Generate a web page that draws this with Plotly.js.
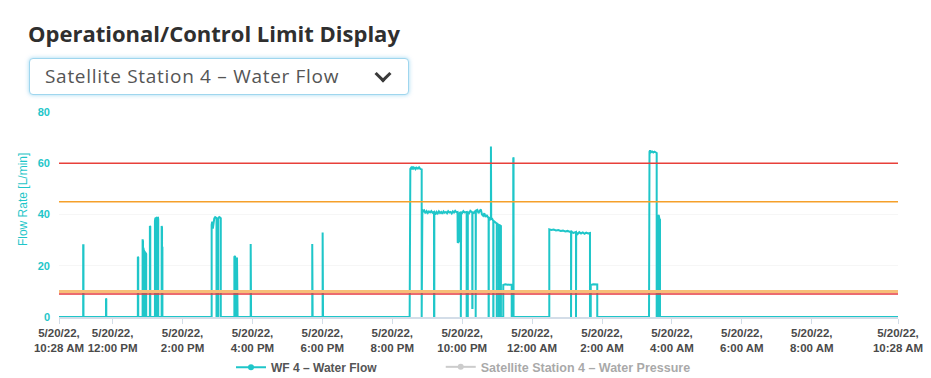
<!DOCTYPE html>
<html>
<head>
<meta charset="utf-8">
<script src="https://cdn.plot.ly/plotly-3.0.1.min.js"></script>
<style>
  html, body { margin: 0; padding: 0; background: #fff; width: 931px; height: 378px; overflow: hidden; }
  #chart { position: absolute; left: 0; top: 0; width: 931px; height: 378px; }
  #title { position: absolute; left: 28px; top: 18px; font-family: "Open Sans", Lato, sans-serif; font-weight: 700; font-size: 22px; color: #2f2f2f; white-space: nowrap; }
  #dropdown { position: absolute; left: 29px; top: 58px; width: 378px; height: 35px; border: 1px solid #9fd6ee; border-radius: 4px; box-shadow: 0 0 4px rgba(110, 195, 235, 0.65); background: #fff; }
  #dropdown span { position: absolute; left: 15px; top: 4px; font-family: "Open Sans", Lato, sans-serif; font-size: 19px; letter-spacing: 0.7px; color: #555; white-space: nowrap; }
  #chev { position: absolute; left: 347px; top: 9px; width: 9px; height: 9px; border-right: 3px solid #3a3a3a; border-bottom: 3px solid #3a3a3a; transform: rotate(45deg); }
</style>
</head>
<body>
<div id="chart"></div>
<div id="title">Operational/Control Limit Display</div>
<div id="dropdown"><span>Satellite Station 4 – Water Flow</span><div id="chev"></div></div>
<script>
// ---- data ----
const xStart = "2022-05-20 10:28:00";
const xEnd = "2022-05-21 10:28:00";

const tickVals = ["2022-05-20 10:28","2022-05-20 12:00","2022-05-20 14:00","2022-05-20 16:00","2022-05-20 18:00","2022-05-20 20:00","2022-05-20 22:00","2022-05-21 00:00","2022-05-21 02:00","2022-05-21 04:00","2022-05-21 06:00","2022-05-21 08:00","2022-05-21 10:28"];
const tickText = ["5/20/22,<br>10:28 AM","5/20/22,<br>12:00 PM","5/20/22,<br>2:00 PM","5/20/22,<br>4:00 PM","5/20/22,<br>6:00 PM","5/20/22,<br>8:00 PM","5/20/22,<br>10:00 PM","5/20/22,<br>12:00 AM","5/20/22,<br>2:00 AM","5/20/22,<br>4:00 AM","5/20/22,<br>6:00 AM","5/20/22,<br>8:00 AM","5/20/22,<br>10:28 AM"];

const limitNames = ["Upper control", "Upper operational", "Lower operational", "Lower control"];
const limitValues = [60, 45, 10, 9];

const flowTimes = [
  "2022-05-20 10:28:00",
  "2022-05-20 11:09:30","2022-05-20 11:09:30","2022-05-20 11:10:00","2022-05-20 11:10:00",
  "2022-05-20 11:48:40","2022-05-20 11:48:40","2022-05-20 11:49:10","2022-05-20 11:49:10",
  "2022-05-20 12:43:20","2022-05-20 12:43:20","2022-05-20 12:44:00","2022-05-20 12:44:00",
  "2022-05-20 12:51:30","2022-05-20 12:51:30","2022-05-20 12:52:10","2022-05-20 12:52:10",
  "2022-05-20 12:52:40","2022-05-20 12:52:40","2022-05-20 12:53:20","2022-05-20 12:53:20",
  "2022-05-20 12:54:00","2022-05-20 12:54:00","2022-05-20 12:54:40","2022-05-20 12:54:40",
  "2022-05-20 12:55:20","2022-05-20 12:55:20","2022-05-20 12:56:20","2022-05-20 12:56:20",
  "2022-05-20 12:57:00","2022-05-20 12:57:00","2022-05-20 12:57:40","2022-05-20 12:57:40",
  "2022-05-20 13:04:00","2022-05-20 13:04:00","2022-05-20 13:04:40","2022-05-20 13:04:40",
  "2022-05-20 13:12:40","2022-05-20 13:12:40","2022-05-20 13:13:20","2022-05-20 13:15:00","2022-05-20 13:15:00",
  "2022-05-20 13:15:40","2022-05-20 13:15:40","2022-05-20 13:18:00","2022-05-20 13:18:20","2022-05-20 13:18:20",
  "2022-05-20 13:24:10","2022-05-20 13:24:10","2022-05-20 13:24:50","2022-05-20 13:24:50","2022-05-20 13:25:30","2022-05-20 13:25:30",
  "2022-05-20 14:50:00","2022-05-20 14:50:00","2022-05-20 14:51:00","2022-05-20 14:52:00","2022-05-20 14:53:00","2022-05-20 14:54:30","2022-05-20 14:56:00","2022-05-20 14:57:30","2022-05-20 14:58:20","2022-05-20 14:58:20",
  "2022-05-20 15:01:20","2022-05-20 15:01:20","2022-05-20 15:03:00","2022-05-20 15:05:00","2022-05-20 15:05:40","2022-05-20 15:05:40",
  "2022-05-20 15:29:00","2022-05-20 15:29:00","2022-05-20 15:30:00","2022-05-20 15:30:30","2022-05-20 15:30:30",
  "2022-05-20 15:33:30","2022-05-20 15:33:30","2022-05-20 15:34:30","2022-05-20 15:34:30",
  "2022-05-20 15:57:00","2022-05-20 15:57:00","2022-05-20 15:57:40","2022-05-20 15:57:40",
  "2022-05-20 17:42:40","2022-05-20 17:42:40","2022-05-20 17:43:20","2022-05-20 17:43:20",
  "2022-05-20 18:00:30","2022-05-20 18:00:30","2022-05-20 18:01:10","2022-05-20 18:01:10",
  "2022-05-20 20:29:50","2022-05-20 20:29:50","2022-05-20 20:31:00","2022-05-20 20:32:30","2022-05-20 20:34:00","2022-05-20 20:35:30","2022-05-20 20:37:00","2022-05-20 20:38:30","2022-05-20 20:40:00","2022-05-20 20:42:00","2022-05-20 20:44:00","2022-05-20 20:46:00","2022-05-20 20:48:00","2022-05-20 20:50:30","2022-05-20 20:50:30",
  "2022-05-20 20:51:40","2022-05-20 20:51:40","2022-05-20 20:53:00","2022-05-20 20:55:00","2022-05-20 20:57:00","2022-05-20 20:59:00","2022-05-20 21:01:00","2022-05-20 21:03:00","2022-05-20 21:05:00","2022-05-20 21:07:00","2022-05-20 21:09:00","2022-05-20 21:11:40","2022-05-20 21:11:40",
  "2022-05-20 21:12:10","2022-05-20 21:12:10","2022-05-20 21:14:00","2022-05-20 21:16:00","2022-05-20 21:18:00","2022-05-20 21:20:00","2022-05-20 21:22:00","2022-05-20 21:24:00","2022-05-20 21:26:00","2022-05-20 21:28:00","2022-05-20 21:30:00","2022-05-20 21:32:00","2022-05-20 21:34:00","2022-05-20 21:36:00","2022-05-20 21:38:00","2022-05-20 21:40:00","2022-05-20 21:42:00","2022-05-20 21:44:00","2022-05-20 21:46:00","2022-05-20 21:48:00","2022-05-20 21:50:00","2022-05-20 21:52:00","2022-05-20 21:52:20","2022-05-20 21:54:30","2022-05-20 21:54:50","2022-05-20 21:57:40","2022-05-20 21:57:40",
  "2022-05-20 21:58:10","2022-05-20 21:58:10","2022-05-20 22:00:00","2022-05-20 22:02:00","2022-05-20 22:04:00","2022-05-20 22:07:40","2022-05-20 22:07:40",
  "2022-05-20 22:08:00","2022-05-20 22:08:00","2022-05-20 22:09:20","2022-05-20 22:09:20",
  "2022-05-20 22:09:40","2022-05-20 22:09:40","2022-05-20 22:12:00","2022-05-20 22:14:00","2022-05-20 22:17:20","2022-05-20 22:17:20","2022-05-20 22:17:40","2022-05-20 22:17:40","2022-05-20 22:20:00","2022-05-20 22:23:10","2022-05-20 22:23:10",
  "2022-05-20 22:23:30","2022-05-20 22:23:30","2022-05-20 22:26:00","2022-05-20 22:28:00","2022-05-20 22:30:00","2022-05-20 22:32:00","2022-05-20 22:34:00","2022-05-20 22:36:00","2022-05-20 22:38:00","2022-05-20 22:40:00","2022-05-20 22:42:00","2022-05-20 22:45:20","2022-05-20 22:45:20",
  "2022-05-20 22:45:40","2022-05-20 22:45:40","2022-05-20 22:47:00","2022-05-20 22:49:20","2022-05-20 22:49:20","2022-05-20 22:49:50","2022-05-20 22:49:50","2022-05-20 22:51:00","2022-05-20 22:53:20","2022-05-20 22:53:20",
  "2022-05-20 22:53:40","2022-05-20 22:53:40","2022-05-20 22:56:00","2022-05-20 22:59:20","2022-05-20 22:59:20",
  "2022-05-20 22:59:40","2022-05-20 22:59:40","2022-05-20 23:03:10","2022-05-20 23:03:10",
  "2022-05-20 23:03:30","2022-05-20 23:03:30","2022-05-20 23:06:30","2022-05-20 23:06:30",
  "2022-05-20 23:10:30","2022-05-20 23:10:30","2022-05-20 23:14:00","2022-05-20 23:18:00","2022-05-20 23:25:00","2022-05-20 23:25:00",
  "2022-05-20 23:27:40","2022-05-20 23:27:40","2022-05-20 23:28:10","2022-05-20 23:28:10",
  "2022-05-21 00:29:30","2022-05-21 00:29:30","2022-05-21 00:33:00","2022-05-21 00:37:00","2022-05-21 00:41:00","2022-05-21 00:45:00","2022-05-21 00:49:00","2022-05-21 00:53:00","2022-05-21 00:57:00","2022-05-21 01:01:00","2022-05-21 01:04:00","2022-05-21 01:06:50","2022-05-21 01:06:50",
  "2022-05-21 01:07:10","2022-05-21 01:07:10","2022-05-21 01:09:00","2022-05-21 01:11:00","2022-05-21 01:15:20","2022-05-21 01:15:20",
  "2022-05-21 01:15:40","2022-05-21 01:15:40","2022-05-21 01:18:00","2022-05-21 01:21:00","2022-05-21 01:24:00","2022-05-21 01:27:00","2022-05-21 01:30:00","2022-05-21 01:33:00","2022-05-21 01:36:00","2022-05-21 01:39:20","2022-05-21 01:39:20",
  "2022-05-21 01:40:40","2022-05-21 01:40:40","2022-05-21 01:45:00","2022-05-21 01:51:50","2022-05-21 01:51:50",
  "2022-05-21 03:20:40","2022-05-21 03:20:40","2022-05-21 03:21:30","2022-05-21 03:22:30","2022-05-21 03:24:00","2022-05-21 03:26:00","2022-05-21 03:28:00","2022-05-21 03:30:00","2022-05-21 03:33:50","2022-05-21 03:33:50",
  "2022-05-21 03:36:30","2022-05-21 03:36:30","2022-05-21 03:37:30","2022-05-21 03:38:30","2022-05-21 03:39:30","2022-05-21 03:39:30",
  "2022-05-21 10:28:00"
];
const flowValues = [
  0,
  0,28,28,0,
  0,7.2,7,0,
  0,23.5,23.2,0,
  0,30.3,29.5,0,
  0,27,26.5,0,
  0,26,25,0,
  0,25.5,25,0,
  0,25,24.5,0,
  0,35.5,35.3,0,
  0,37.5,38.5,38.7,0,
  0,38.5,38.7,38,0,
  0,35.5,35,27,27,0,
  0,36,37.2,34.5,37.5,38.5,39,38.6,38.6,0,
  0,38.5,39,38.7,38.5,0,
  0,23.5,23.8,23.3,0,
  0,23.2,22.5,0,
  0,28.5,28.3,0,
  0,28.5,28.3,0,
  0,33,32.8,0,
  0,56.5,57.8,58.3,57.6,58.7,58,58.5,57.7,58.3,57.9,58.4,57.8,57.6,0,
  0,42,41,41.5,40.5,41.3,40.6,41.2,40.8,41.3,40.7,41,0,
  0,41,40,41,40.4,41.2,40.6,41,40.3,41.2,40.7,41,40.5,41.3,40.8,41,40.4,41.2,40.8,41.4,40.9,41,29,29.5,40.5,41,0,
  0,41,40.6,41.3,40.8,41,0,
  0,41,40.8,0,
  0,41,40.5,41.4,40.8,3.5,3.5,41,40.6,41.5,0,
  0,41.5,41.8,40.5,41.4,42,40,39.5,40.5,39,39.8,38.5,0,
  0,39,37.8,38.5,66.5,66.5,38,38.5,37.5,0,
  0,37.5,37,36.5,0,
  0,36.5,35.8,0,
  0,36,35.5,0,
  0,12.5,12.8,12.6,12.7,0,
  0,62.2,62,0,
  0,34.2,34,34.1,33.8,33.9,33.6,33.7,33.4,33.6,33.3,33.4,0,
  0,33.5,33,32.8,33.2,0,
  0,33,32.4,33.1,32.6,33,32.5,32.9,32.6,32.8,0,
  0,12.5,12.8,12.7,0,
  0,62,64.5,65,64.3,64.6,64.2,64.5,64,0,
  0,39.8,39.5,38.3,38,0,
  0
];

// ---- styling ----
const cyan = "#1fc6c9";
const limitColors = ["#e8403a", "#f5a02a", "#f7be78", "#e63a3f"];
const limitWidths = [1.5, 1.5, 3, 1.5];

const traces = [];
traces.push({
  x: flowTimes, y: flowValues, type: "scatter", mode: "lines",
  line: { color: cyan, width: 2 }, showlegend: false, hoverinfo: "skip"
});
limitValues.forEach((v, i) => {
  traces.push({
    x: [xStart, xEnd], y: [v, v], type: "scatter", mode: "lines", name: limitNames[i],
    line: { color: limitColors[i], width: limitWidths[i] }, showlegend: false, hoverinfo: "skip"
  });
});
// legend entries
traces.push({
  x: [null], y: [null], type: "scatter", mode: "lines+markers", name: "WF 4 – Water Flow",
  line: { color: cyan, width: 2 }, marker: { color: cyan, size: 6 }, legend: "legend"
});
traces.push({
  x: [null], y: [null], type: "scatter", mode: "lines+markers", name: "Satellite Station 4 – Water Pressure",
  line: { color: "#9a9a9a", width: 2 }, marker: { color: "#9a9a9a", size: 6 }, visible: "legendonly", legend: "legend2"
});

const legendFont = { size: 12, color: "#555555", weight: "bold" };
const layout = {
  width: 931, height: 378,
  margin: { l: 59, r: 33, t: 112, b: 61, autoexpand: false },
  paper_bgcolor: "#ffffff", plot_bgcolor: "#ffffff",
  font: { family: "Liberation Sans, Arial, sans-serif" },
  showlegend: true,
  legend: {
    orientation: "h", x: 0.205, xanchor: "left", y: -0.245, yanchor: "middle",
    font: legendFont, itemclick: false, itemdoubleclick: false, bgcolor: "rgba(0,0,0,0)"
  },
  legend2: {
    orientation: "h", x: 0.455, xanchor: "left", y: -0.245, yanchor: "middle",
    font: { size: 12.5, color: "#555555", weight: "bold" }, itemclick: false, itemdoubleclick: false, bgcolor: "rgba(0,0,0,0)"
  },
  xaxis: {
    type: "date", range: [xStart, xEnd],
    tickmode: "array", tickvals: tickVals, ticktext: tickText,
    tickfont: { size: 11.5, color: "#4a4a4a", weight: "bold" },
    showgrid: false, zeroline: false,
    showline: true, linecolor: "#d3dde8", linewidth: 1.5,
    ticks: "outside", ticklen: 5, tickcolor: "#d3dde8", tickwidth: 1,
    fixedrange: true
  },
  yaxis: {
    range: [0, 80], tickvals: [0, 20, 40, 60, 80],
    tickfont: { size: 11, color: cyan, weight: "bold" },
    showgrid: true, gridcolor: "#f6f6f6", zeroline: false, showline: false,
    ticklabelstandoff: 8, fixedrange: true
  },
  annotations: [{
    text: "Flow Rate [L/min]", xref: "paper", yref: "paper",
    x: -0.043, xanchor: "center", y: 0.575, yanchor: "middle", textangle: -90,
    showarrow: false, font: { size: 12, color: cyan }
  }]
};

Plotly.newPlot("chart", traces, layout, { displayModeBar: false, staticPlot: true });
</script>
</body>
</html>
